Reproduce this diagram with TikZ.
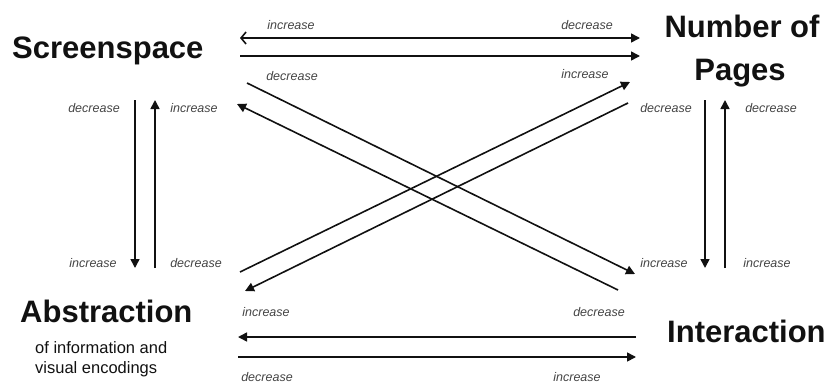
\documentclass[tikz,border=0pt]{standalone}
\usepackage{fontspec}
\setmainfont{Liberation Sans}
\usetikzlibrary{arrows.meta}
\definecolor{lbl}{HTML}{444444}
\definecolor{ink}{HTML}{111111}
\begin{document}
\begin{tikzpicture}[x=1pt,y=-1pt,
  title/.style={font=\fontsize{31}{31}\selectfont\bfseries, inner sep=0pt, text=ink},
  sub/.style={font=\fontsize{16.5}{20}\selectfont, inner sep=0pt, text=ink, align=left},
  lab/.style={font=\fontsize{12.5}{12.5}\selectfont\itshape, inner sep=0pt, text=lbl, anchor=base},
  conn/.style={line width=1.6pt, draw=ink},
  tip/.style={conn, -{Triangle[length=9pt,width=9pt]}},
  both/.style={conn, {Straight Barb[length=5pt,width=12pt]}-{Triangle[length=9pt,width=9pt]}}
]
\useasboundingbox (0,0) rectangle (827,383);

% titles
\node[title, anchor=base west] (scr) at (12,58) {Screenspace};
\node[title, anchor=base] (num) at (742,37) {Number of};
\node[title, anchor=base] (pag) at (740,80) {Pages};
\node[title, anchor=base west] (abs) at (20,322) {Abstraction};
\node[sub, anchor=base west] (absub) at (35,373) {of information and\\visual encodings};
\node[title, anchor=base west] (int) at (667,342) {Interaction};

% endpoints
\coordinate (t1a) at (240,38);  \coordinate (t1b) at (640,38);
\coordinate (t2a) at (240,56);  \coordinate (t2b) at (640,56);
\coordinate (b1a) at (238,337); \coordinate (b1b) at (636,337);
\coordinate (b2a) at (238,357); \coordinate (b2b) at (636,357);
\coordinate (l1a) at (135,100); \coordinate (l1b) at (135,268);
\coordinate (l2a) at (155,268); \coordinate (l2b) at (155,100);
\coordinate (r1a) at (705,100); \coordinate (r1b) at (705,268);
\coordinate (r2a) at (725,268); \coordinate (r2b) at (725,100);
\coordinate (d1a) at (247,83);  \coordinate (d1b) at (635,274);
\coordinate (d2a) at (618,290); \coordinate (d2b) at (237,104);
\coordinate (d3a) at (240,272); \coordinate (d3b) at (630,82);
\coordinate (d4a) at (628,103); \coordinate (d4b) at (245,291);

% connectors
\draw[both] (t1a) -- (t1b);
\draw[tip] (t2a) -- (t2b);
\draw[tip] (b1b) -- (b1a);
\draw[tip] (b2a) -- (b2b);
\draw[tip] (l1a) -- (l1b);
\draw[tip] (l2a) -- (l2b);
\draw[tip] (r1a) -- (r1b);
\draw[tip] (r2a) -- (r2b);
\draw[tip] (d1a) -- (d1b);
\draw[tip] (d2a) -- (d2b);
\draw[tip] (d3a) -- (d3b);
\draw[tip] (d4a) -- (d4b);

% labels
\node[lab] (la1) at (291,29) {increase};
\node[lab] (la2) at (587,29) {decrease};
\node[lab] (la3) at (292,80) {decrease};
\node[lab] (la4) at (585,78) {increase};
\node[lab] (la5) at (94,112) {decrease};
\node[lab] (la6) at (194,112) {increase};
\node[lab] (la7) at (666,112) {decrease};
\node[lab] (la8) at (771,112) {decrease};
\node[lab] (la9) at (93,267) {increase};
\node[lab] (la10) at (196,267) {decrease};
\node[lab] (la11) at (664,267) {increase};
\node[lab] (la12) at (767,267) {increase};
\node[lab] (la13) at (266,316) {increase};
\node[lab] (la14) at (599,316) {decrease};
\node[lab] (la15) at (267,381) {decrease};
\node[lab] (la16) at (577,381) {increase};
\end{tikzpicture}
\end{document}
